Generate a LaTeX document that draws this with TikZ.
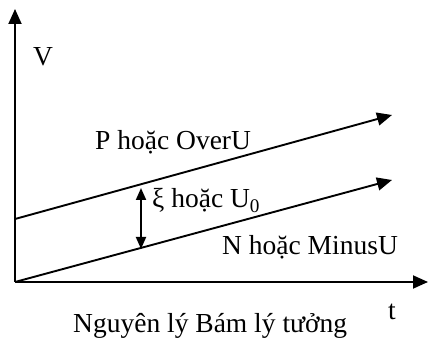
\documentclass[tikz,border=0pt]{standalone}
\usepackage{fontspec}
\setmainfont{Liberation Serif}
\usetikzlibrary{arrows.meta}

\begin{document}
\begin{tikzpicture}[
  x=1pt, y=-1pt,
  axis/.style={-{Triangle[length=15pt,width=13pt]}, line width=1.9pt},
  ramp/.style={-{Triangle[length=15pt,width=13pt]}, line width=1.9pt},
  gap/.style={{Triangle[length=12pt,width=10pt]}-{Triangle[length=12pt,width=10pt]},
              line width=1.9pt},
  lbl/.style={font=\fontsize{27.5}{30}\selectfont, inner sep=0pt, anchor=base west}
]
  \useasboundingbox (0,0) rectangle (429,347);

  % axes
  \coordinate (o) at (15,282);
  \coordinate (ytop) at (15,9);
  \coordinate (xend) at (428,282);
  \draw[axis] (o) -- (ytop);
  \draw[axis] (o) -- (xend);

  % tracking lines
  \coordinate (pstart) at (15,219);
  \coordinate (pend) at (392,115);
  \coordinate (nend) at (392,180);
  \draw[ramp] (pstart) -- (pend);
  \draw[ramp] (o) -- (nend);

  % gap between them
  \coordinate (gtop) at (141,188);
  \coordinate (gbot) at (141,249);
  \draw[gap] (gbot) -- (gtop);

  % labels
  \node[lbl] (vlbl) at (33,66) {V};
  \node[lbl] (plbl) at (95,150) {P hoặc OverU};
  \node[lbl] (xilbl) at (152,208) {ξ hoặc U\textsubscript{0}};
  \node[lbl] (nlbl) at (222,255) {N hoặc MinusU};
  \node[lbl] (tlbl) at (388,320) {t};
  \node[lbl] (caption) at (73,333) {Nguyên lý Bám lý tưởng};
\end{tikzpicture}
\end{document}
